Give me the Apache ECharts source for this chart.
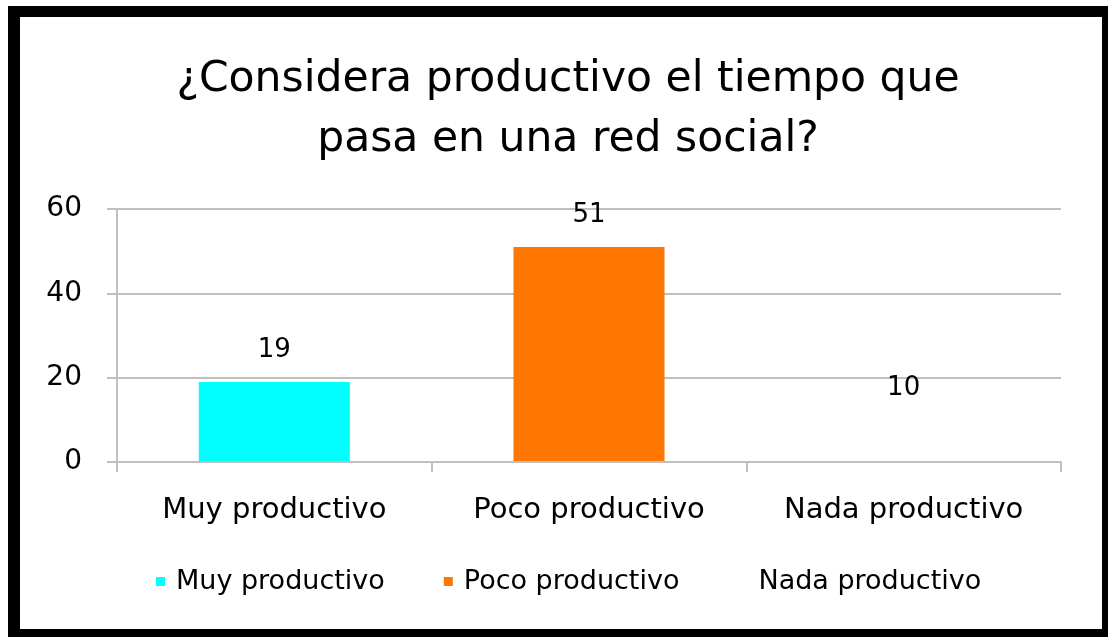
<!DOCTYPE html>
<html>
<head>
<meta charset="utf-8">
<script src="https://cdn.jsdelivr.net/npm/echarts@6/dist/echarts.min.js"></script>
<style>
html,body{margin:0;padding:0;background:#fff;}
#c{width:1108px;height:637px;}
</style>
</head>
<body>
<div id="c"></div>
<script>
const titleText = "¿Considera productivo el tiempo que\npasa en una red social?";
const categories = ["Muy productivo", "Poco productivo", "Nada productivo"];
const values = [19, 51, 10];
const colors = ["#00FFFF", "#FF7700", "#FFFFFF"];
const yTicks = [0, 20, 40, 60];

const FONT = "DejaVu Sans";
const chart = echarts.init(document.getElementById('c'));

const series = categories.map((name, i) => ({
  name: name,
  type: 'bar',
  stack: 'all',
  barWidth: '48%',
  data: categories.map((c, j) => j === i ? values[i] : '-'),
  itemStyle: { color: colors[i] },
  label: {
    show: true, position: 'top', distance: 19,
    color: '#000', fontFamily: FONT, fontSize: 26
  }
}));

chart.setOption({
  animation: false,
  backgroundColor: '#fff',
  graphic: [
    { type: 'rect', shape: { x: 8, y: 6, width: 1100, height: 631 }, style: { fill: '#000' }, z: -10 },
    { type: 'rect', shape: { x: 20, y: 17, width: 1082, height: 612 }, style: { fill: '#fff' }, z: -9 }
  ],
  title: {
    text: titleText,
    left: 563,
    textAlign: 'center',
    top: 45,
    textStyle: { fontFamily: FONT, fontSize: 42.5, fontWeight: 'normal', color: '#000', lineHeight: 60 }
  },
  legend: {
    left: 151,
    top: 563,
    itemWidth: 9,
    itemHeight: 9,
    itemGap: 59,
    icon: 'rect',
    textStyle: { fontFamily: FONT, fontSize: 27, color: '#000', padding: [0, 0, 0, 6] },
    data: categories
  },
  grid: { left: 117, right: 47, top: 209, bottom: 175, containLabel: false },
  xAxis: {
    type: 'category',
    data: categories,
    boundaryGap: true,
    z: 3,
    axisLine: { show: true, lineStyle: { color: '#bfbfbf', width: 2 } },
    axisTick: { show: true, length: 10, lineStyle: { color: '#bfbfbf', width: 2 } },
    axisLabel: { fontFamily: FONT, fontSize: 29, color: '#000', margin: 34 }
  },
  yAxis: {
    type: 'value',
    min: yTicks[0],
    max: yTicks[yTicks.length - 1],
    interval: 20,
    axisLine: { show: true, lineStyle: { color: '#bfbfbf', width: 2 } },
    axisTick: { show: true, length: 10, lineStyle: { color: '#bfbfbf', width: 2 } },
    axisLabel: { fontFamily: FONT, fontSize: 28, color: '#000', margin: 35 },
    splitLine: { show: true, lineStyle: { color: '#bfbfbf', width: 2 } }
  },
  series: series
});
</script>
</body>
</html>
